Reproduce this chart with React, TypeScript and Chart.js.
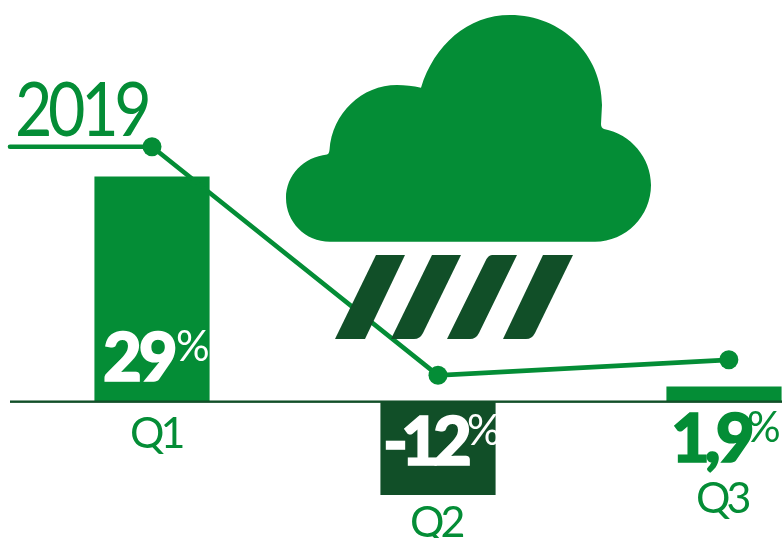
import React, { useEffect, useRef } from "react";
import { Chart, registerables } from "chart.js";

Chart.register(...registerables);

const quarters = ["Q1", "Q2", "Q3"];
const barPositions = [0, 1, 2];
const growth = [29, -12, 1.9];
const growthWhole = ["29", "-12", "1,9"];
const trendPositions = [-0.4965, 0, 1, 2.017];
const trendValues = [32.9, 32.9, 3.4, 5.4];
const yearLabel = "2019";

const GREEN = "#048d36";
const DARK = "#114f28";
const WHITE = "#ffffff";

// Offsets of the captions from each bar's column centre and the zero line.
const valueStyle = [
  { dx: -49, dy: -21, tight: "-3px", color: WHITE, pdx: 24, pdy: -41 },
  { dx: -55, dy: 63, tight: "-7px", color: WHITE, pdx: 29, pdy: 43 },
  { dx: -53, dy: 60, tight: "-5px", color: GREEN, pdx: 23, pdy: 40 },
];
const quarterStyle = [
  { dx: -22, dy: 46 },
  { dx: -28, dy: 135 },
  { dx: -28, dy: 111 },
];

const cloudPath =
  "M330,241.7 C305,241.7 286,222 286,198 C286,175 304,157 327,154.5 Q329,154 329.5,150 " +
  "C332,113 362,85 397,85 C405,85 413,86 421,87.7 C434,45 468,15 510,15 " +
  "C562,15 602,55 602,105 L601,124 Q601,128 604,129 C631,134 651,158 651,185 " +
  "C651,216 626,241.7 595,241.7 Z";

const rainPaths = [
  "M376,255 L405,255 L365,339 L335,339 Z",
  "M432,255 L461,255 L423,333 Q420,339 414,339 L391,339 Z",
  "M492,255 L517,255 L479,333 Q476,339 470,339 L447,339 L485,262 Q488,255 492,255 Z",
  "M543,255 L573,255 L535,333 Q532,339 526,339 L503,339 Z",
];

const decoration = {
  id: "decoration",
  afterDatasetsDraw(chart: any) {
    const { ctx, scales } = chart;
    const zero = scales.y.getPixelForValue(0);

    ctx.save();
    // Baseline at zero
    ctx.fillStyle = DARK;
    ctx.fillRect(10, zero - 1.2, 772, 2.4);

    // Cloud and rain
    ctx.fillStyle = GREEN;
    ctx.fill(new Path2D(cloudPath));
    ctx.fillStyle = DARK;
    rainPaths.forEach((p) => ctx.fill(new Path2D(p)));

    ctx.textBaseline = "alphabetic";
    ctx.textAlign = "left";

    // Year above the leader line, drawn slightly condensed
    ctx.save();
    ctx.translate(15, 136);
    ctx.scale(0.86, 1);
    ctx.fillStyle = GREEN;
    ctx.font = '400 75px "Lato"';
    ctx.letterSpacing = "-5px";
    ctx.fillText(yearLabel, 0, 0);
    ctx.restore();

    quarters.forEach((q, i) => {
      const cx = scales.x.getPixelForValue(barPositions[i]);

      // Quarter name
      ctx.fillStyle = GREEN;
      ctx.font = '400 43px "Lato"';
      ctx.letterSpacing = "-4px";
      ctx.fillText(q, cx + quarterStyle[i].dx, zero + quarterStyle[i].dy);

      // Growth figure, thickened with an outline, and its raised percent sign
      const s = valueStyle[i];
      ctx.fillStyle = s.color;
      ctx.strokeStyle = s.color;
      ctx.lineWidth = 1.6;
      ctx.lineJoin = "miter";
      ctx.font = '900 67px "Lato"';
      ctx.letterSpacing = s.tight;
      ctx.fillText(growthWhole[i], cx + s.dx, zero + s.dy);
      ctx.strokeText(growthWhole[i], cx + s.dx, zero + s.dy);
      ctx.font = '400 42px "Lato"';
      ctx.letterSpacing = "0px";
      ctx.fillText("%", cx + s.pdx, zero + s.pdy);
    });
    ctx.restore();
  },
};

export default function App() {
  const ref = useRef<HTMLCanvasElement>(null);

  useEffect(() => {
    document.body.style.margin = "0";
    const chart = new Chart(ref.current!, {
      type: "bar",
      plugins: [decoration],
      data: {
        datasets: [
          {
            type: "line",
            data: trendPositions.map((x, i) => ({ x, y: trendValues[i] })),
            borderColor: GREEN,
            borderWidth: 4.6,
            borderCapStyle: "round",
            backgroundColor: GREEN,
            pointBackgroundColor: GREEN,
            pointBorderWidth: 0,
            pointRadius: [0, 9.5, 9.5, 9.5],
            tension: 0,
            clip: false,
          },
          {
            type: "bar",
            data: barPositions.map((x, i) => ({ x, y: growth[i] })),
            backgroundColor: growth.map((v) => (v < 0 ? DARK : GREEN)),
            barThickness: 114.5,
            borderWidth: 0,
          },
        ],
      } as any,
      options: {
        animation: false,
        responsive: false,
        layout: { padding: 0, autoPadding: false },
        plugins: { legend: { display: false }, tooltip: { enabled: false } },
        scales: {
          x: { type: "linear", display: false, offset: false, min: -0.5315, max: 2.2028 },
          y: { type: "linear", display: false, min: -17.59, max: 51.83 },
        },
      } as any,
    });
    return () => chart.destroy();
  }, []);

  return <canvas ref={ref} width={782} height={538} style={{ display: "block" }} />;
}
